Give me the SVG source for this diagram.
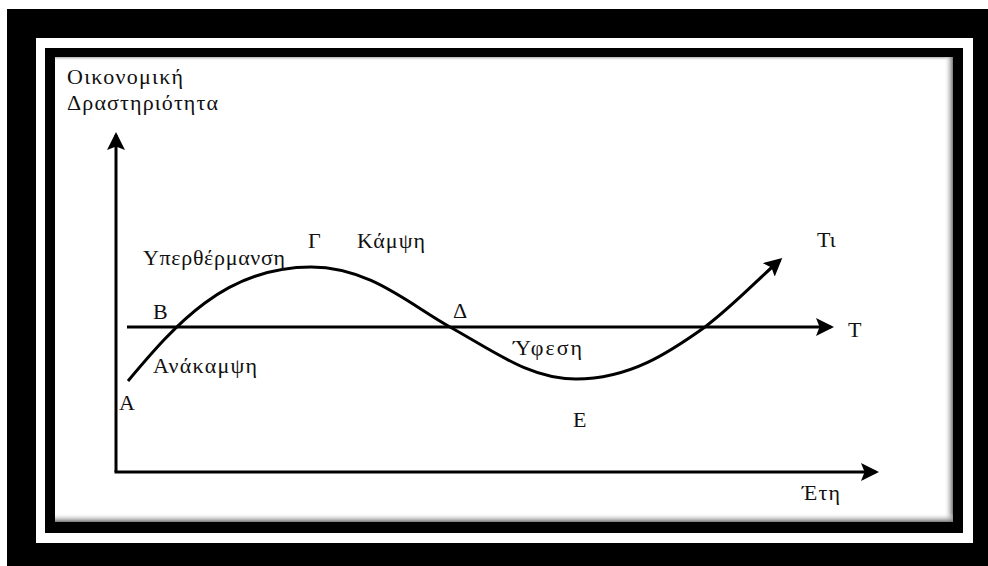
<svg xmlns="http://www.w3.org/2000/svg" width="988" height="566" viewBox="0 0 988 566">
  <style>
    .lbl { font-family: "Liberation Serif", "Times New Roman", serif; font-size: 22px; fill: #111; }
    .ln { fill: none; stroke: #000; stroke-width: 3; }
  </style>
  <defs>
    <marker id="ah" markerWidth="6" markerHeight="6" refX="5" refY="3" orient="auto" markerUnits="strokeWidth">
      <path d="M0,0 L6,3 L0,6 L1.2,3 Z" fill="#000"/>
    </marker>
    <linearGradient id="shR" x1="0" y1="0" x2="1" y2="0">
      <stop offset="0" stop-color="#fff" stop-opacity="0"/>
      <stop offset="1" stop-color="#777"/>
    </linearGradient>
    <linearGradient id="shB" x1="0" y1="0" x2="0" y2="1">
      <stop offset="0" stop-color="#fff" stop-opacity="0"/>
      <stop offset="1" stop-color="#777"/>
    </linearGradient>
    <linearGradient id="shT" x1="0" y1="0" x2="0" y2="1">
      <stop offset="0" stop-color="#aaa"/>
      <stop offset="1" stop-color="#fff" stop-opacity="0"/>
    </linearGradient>
  </defs>

  <g id="frame">
    <rect x="0" y="0" width="988" height="566" fill="#fff"/>
    <rect x="7" y="9" width="981" height="557" fill="#000"/>
    <rect x="36" y="38" width="937" height="505" fill="#fff"/>
    <rect x="45" y="48" width="918" height="485" fill="#000"/>
    <rect x="55" y="57" width="898" height="465" fill="#fff"/>
    <rect x="55" y="57" width="898" height="4" fill="url(#shT)"/>
    <rect x="944" y="57" width="9" height="465" fill="url(#shR)"/>
    <rect x="55" y="513" width="898" height="9" fill="url(#shB)"/>
  </g>

  <g id="connectors">
    <path class="ln" d="M116,472 V135" marker-end="url(#ah)"/>
    <path class="ln" d="M114.5,472 H876" marker-end="url(#ah)"/>
    <path class="ln" d="M127,327 H831" marker-end="url(#ah)"/>
    <path class="ln" d="M128,381 C175,325 225,267 311,267 C370,267 410,305 450,327 C495,352 530,379 576,379 C630,379 670,352 705,327 C735,304 755,282 780,260" marker-end="url(#ah)"/>
  </g>

  <g id="label-y"><text class="lbl" x="67" y="84" textLength="116">Οικονομική</text><text class="lbl" x="67" y="110" textLength="151">Δραστηριότητα</text></g>
  <g id="label-x"><text class="lbl" x="802" y="500" textLength="38">Έτη</text></g>
  <g id="node-A"><text class="lbl" x="119" y="410">Α</text></g>
  <g id="node-B"><text class="lbl" x="153" y="319">Β</text></g>
  <g id="node-G"><text class="lbl" x="308" y="248">Γ</text></g>
  <g id="node-D"><text class="lbl" x="453" y="318">Δ</text></g>
  <g id="node-E"><text class="lbl" x="573" y="427">Ε</text></g>
  <g id="node-T"><text class="lbl" x="848" y="337">Τ</text></g>
  <g id="node-T1"><text class="lbl" x="817" y="247">Τι</text></g>
  <g id="phase-recovery"><text class="lbl" x="153" y="373" textLength="104">Ανάκαμψη</text></g>
  <g id="phase-overheat"><text class="lbl" x="143" y="265" textLength="142">Υπερθέρμανση</text></g>
  <g id="phase-turn"><text class="lbl" x="357" y="248" textLength="68">Κάμψη</text></g>
  <g id="phase-recession"><text class="lbl" x="513" y="355" textLength="69">Ύφεση</text></g>
</svg>
